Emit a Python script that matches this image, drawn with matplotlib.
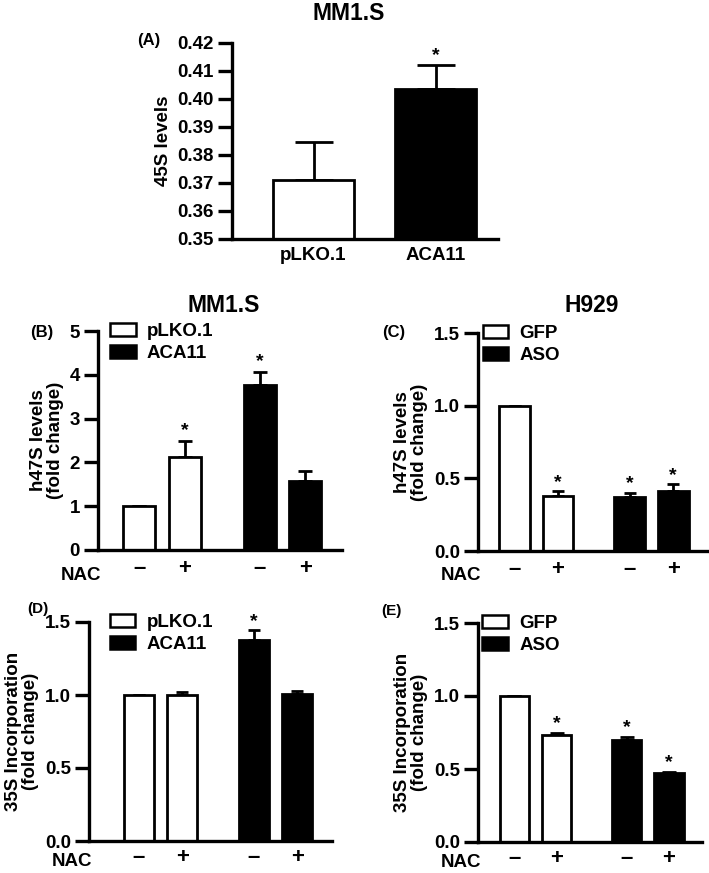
import matplotlib
matplotlib.use("Agg")
import matplotlib.pyplot as plt
from matplotlib.patches import Patch

plt.rcParams['font.family'] = ['Liberation Sans', 'DejaVu Sans']
plt.rcParams['font.weight'] = 'bold'
plt.rcParams['axes.labelweight'] = 'bold'

# panel A
a_groups = ['pLKO.1', 'ACA11']
a_vals = [0.371, 0.4035]
a_errs = [0.0135, 0.0085]
a_stars = [False, True]

# panels B-E share NAC layout
nac_signs = ['\u2013', '+', '\u2013', '+']
b_vals = [1.0, 2.13, 3.77, 1.57]
b_errs = [0.0, 0.37, 0.30, 0.23]
b_stars = [False, True, True, False]

c_vals = [1.0, 0.38, 0.37, 0.41]
c_errs = [0.0, 0.03, 0.03, 0.05]
c_stars = [False, True, True, True]

d_vals = [1.0, 1.0, 1.38, 1.01]
d_errs = [0.0, 0.02, 0.065, 0.02]
d_stars = [False, False, True, False]

e_vals = [1.0, 0.73, 0.70, 0.47]
e_errs = [0.0, 0.02, 0.02, 0.01]
e_stars = [False, True, True, True]

W, H = 709, 873
fig = plt.figure(figsize=(W / 100, H / 100), dpi=100)
FS = 13.5


def make_ax(left, right, top, bottom):
    ax = fig.add_axes([left / W, 1 - bottom / H, (right - left) / W, (bottom - top) / H])
    for s in ['top', 'right']:
        ax.spines[s].set_visible(False)
    for s in ['left', 'bottom']:
        ax.spines[s].set_linewidth(2.4)
    ax.tick_params(axis='y', length=10, width=2.4, labelsize=FS, pad=3)
    ax.tick_params(axis='x', length=0, labelsize=FS)
    return ax


def draw_bars(ax, pos, vals, errs, colors, width, capsize, stars, star_off):
    ax.bar(pos, vals, width=width, color=colors, edgecolor='black', linewidth=2.0, zorder=2)
    ax.errorbar(pos, vals, yerr=[[0] * len(vals), errs], fmt='none', ecolor='black',
                elinewidth=2.0, capsize=capsize, capthick=2.0, zorder=1)
    for p, v, e, s in zip(pos, vals, errs, stars):
        if s:
            ax.text(p, v + e + star_off, '*', ha='center', va='bottom', fontsize=14)


# ---- (A)
ax = make_ax(232, 498, 43, 239)
draw_bars(ax, [0, 1], a_vals, a_errs, ['white', 'black'], 0.66, 14, a_stars, 0.0005)
ax.set_ylim(0.35, 0.42)
ax.set_xlim(-0.668, 1.512)
ax.set_yticks([0.35, 0.36, 0.37, 0.38, 0.39, 0.40, 0.41, 0.42])
ax.set_yticklabels(['0.35', '0.36', '0.37', '0.38', '0.39', '0.40', '0.41', '0.42'])
ax.set_xticks([0, 1])
ax.set_xticklabels(a_groups)
ax.tick_params(axis='x', pad=6)
ax.set_ylabel('45S levels', fontsize=FS, labelpad=4)
fig.text(349 / W, 1 - 13 / H, 'MM1.S', ha='center', va='center', fontsize=16.5)
fig.text(149 / W, 1 - 41 / H, '(A)', ha='center', va='center', fontsize=12)

pos4 = [0, 1, 2.65, 3.65]
cols4 = ['white', 'white', 'black', 'black']


def nac_row(ax, nac_off=-18, sign_pad=13):
    ax.set_xticks(pos4)
    ax.set_xticklabels(nac_signs, fontsize=16, va='center')
    ax.tick_params(axis='x', pad=sign_pad)
    ax.annotate('NAC', xy=(0, 0), xycoords='axes fraction', xytext=(2, nac_off),
                textcoords='offset points', ha='right', va='center', fontsize=FS)


def legend(ax, labels, x0):
    h = [Patch(facecolor='white', edgecolor='black', linewidth=1.8, label=labels[0]),
         Patch(facecolor='black', edgecolor='black', linewidth=1.8, label=labels[1])]
    ax.legend(handles=h, loc='upper left', bbox_to_anchor=(x0, 1.035), frameon=False,
              fontsize=FS, handlelength=1.35, handleheight=0.7, handletextpad=0.6,
              labelspacing=0.25, borderaxespad=0, borderpad=0)


# ---- (B)
ax = make_ax(98, 342, 331, 550)
draw_bars(ax, pos4, b_vals, b_errs, cols4, 0.71, 5, b_stars, 0.03)
ax.set_ylim(0, 5)
ax.set_xlim(-0.91, 4.46)
ax.set_yticks([0, 1, 2, 3, 4, 5])
ax.set_ylabel('h47S levels\n(fold change)', fontsize=FS, labelpad=4, linespacing=1.0)
nac_row(ax)
legend(ax, ['pLKO.1', 'ACA11'], 0.05)
fig.text(224 / W, 1 - 305 / H, 'MM1.S', ha='center', va='center', fontsize=16.5)
fig.text(42 / W, 1 - 333 / H, '(B)', ha='center', va='center', fontsize=12)

# ---- (C)
ax = make_ax(478, 708, 333, 551)
draw_bars(ax, pos4, c_vals, c_errs, cols4, 0.71, 4.5, c_stars, 0.003)
ax.set_ylim(0, 1.5)
ax.set_xlim(-0.84, 4.45)
ax.set_yticks([0.0, 0.5, 1.0, 1.5])
ax.set_yticklabels(['0.0', '0.5', '1.0', '1.5'])
ax.set_ylabel('h47S levels\n(fold change)', fontsize=FS, labelpad=4, linespacing=1.0)
nac_row(ax)
legend(ax, ['GFP', 'ASO'], 0.02)
fig.text(592 / W, 1 - 305 / H, 'H929', ha='center', va='center', fontsize=16.5)
fig.text(394 / W, 1 - 333 / H, '(C)', ha='center', va='center', fontsize=12)

# ---- (D)
ax = make_ax(89, 332, 622, 841)
draw_bars(ax, pos4, d_vals, d_errs, cols4, 0.69, 4.5, d_stars, 0.003)
ax.set_ylim(0, 1.5)
ax.set_xlim(-1.15, 4.45)
ax.set_yticks([0.0, 0.5, 1.0, 1.5])
ax.set_yticklabels(['0.0', '0.5', '1.0', '1.5'])
ax.set_ylabel('35S Incorporation\n(fold change)', fontsize=FS, labelpad=4, linespacing=1.0)
nac_row(ax, nac_off=-15, sign_pad=12)
legend(ax, ['pLKO.1', 'ACA11'], 0.086)
fig.text(38 / W, 1 - 609 / H, '(D)', ha='center', va='center', fontsize=11)

# ---- (E)
ax = make_ax(478, 702, 623, 842)
draw_bars(ax, pos4, e_vals, e_errs, cols4, 0.69, 5, e_stars, 0.003)
ax.set_ylim(0, 1.5)
ax.set_xlim(-0.86, 4.43)
ax.set_yticks([0.0, 0.5, 1.0, 1.5])
ax.set_yticklabels(['0.0', '0.5', '1.0', '1.5'])
ax.set_ylabel('35S Incorporation\n(fold change)', fontsize=FS, labelpad=4, linespacing=1.0)
nac_row(ax, nac_off=-15, sign_pad=12)
legend(ax, ['GFP', 'ASO'], 0.02)
fig.text(391 / W, 1 - 611 / H, '(E)', ha='center', va='center', fontsize=11)

fig.savefig('out.png', dpi=100)
